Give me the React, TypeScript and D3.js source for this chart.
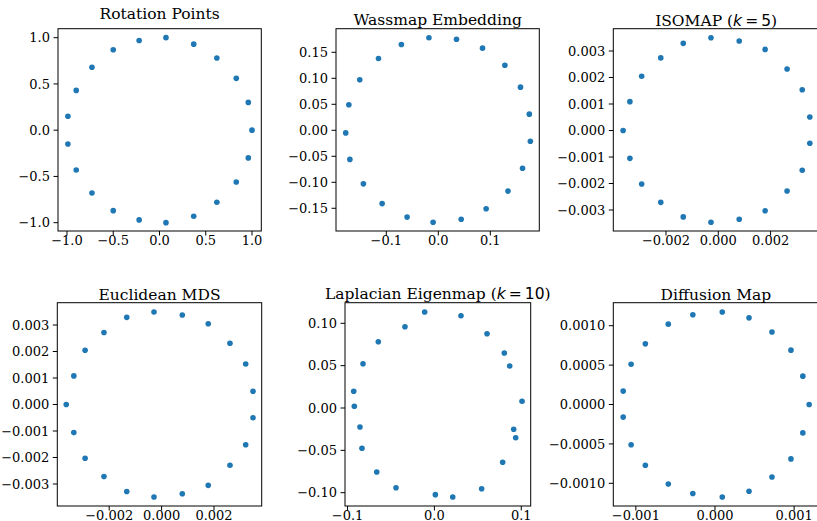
import React from "react";
import * as d3 from "d3";

// ---- data: 21 embedded points per method ----
const rotationX = [1.00, 0.96, 0.83, 0.62, 0.37, 0.07, -0.22, -0.50, -0.73, -0.90, -0.99, -0.99, -0.90, -0.73, -0.50, -0.22, 0.07, 0.37, 0.62, 0.83, 0.96];
const rotationY = [0.00, 0.30, 0.56, 0.78, 0.93, 1.00, 0.97, 0.87, 0.68, 0.43, 0.15, -0.15, -0.43, -0.68, -0.87, -0.97, -1.00, -0.93, -0.78, -0.56, -0.30];

const wassmapX = [-0.018, 0.035, 0.085, 0.128, 0.158, 0.175, 0.177, 0.162, 0.134, 0.092, 0.044, -0.010, -0.060, -0.108, -0.144, -0.170, -0.178, -0.172, -0.151, -0.115, -0.071];
const wassmapY = [0.178, 0.175, 0.158, 0.125, 0.083, 0.031, -0.021, -0.073, -0.117, -0.151, -0.171, -0.177, -0.167, -0.141, -0.103, -0.056, -0.005, 0.049, 0.097, 0.138, 0.165];

const isomapX = [-0.00028, 0.00080, 0.00179, 0.00263, 0.00321, 0.00350, 0.00350, 0.00321, 0.00263, 0.00179, 0.00080, -0.00028, -0.00134, -0.00220, -0.00293, -0.00338, -0.00364, -0.00338, -0.00293, -0.00220, -0.00134];
const isomapY = [0.00350, 0.00338, 0.00306, 0.00232, 0.00154, 0.00051, -0.00048, -0.00150, -0.00228, -0.00303, -0.00335, -0.00346, -0.00326, -0.00271, -0.00202, -0.00105, 0.00000, 0.00109, 0.00205, 0.00274, 0.00329];

const mdsX = [-0.00029, 0.00079, 0.00178, 0.00261, 0.00321, 0.00349, 0.00349, 0.00321, 0.00261, 0.00178, 0.00079, -0.00029, -0.00133, -0.00220, -0.00292, -0.00335, -0.00364, -0.00335, -0.00292, -0.00220, -0.00133];
const mdsY = [0.00349, 0.00338, 0.00305, 0.00231, 0.00153, 0.00050, -0.00050, -0.00152, -0.00229, -0.00305, -0.00337, -0.00349, -0.00328, -0.00272, -0.00203, -0.00106, 0.00000, 0.00108, 0.00205, 0.00272, 0.00329];

const laplacianX = [-0.0112, 0.0306, 0.0606, 0.0805, 0.0867, 0.1009, 0.0913, 0.0936, 0.0786, 0.0544, 0.0211, 0.0011, -0.0442, -0.0664, -0.0834, -0.0857, -0.0922, -0.0929, -0.0822, -0.0646, -0.0339];
const laplacianY = [0.1133, 0.1090, 0.0877, 0.0649, 0.0496, 0.0079, -0.0251, -0.0351, -0.0641, -0.0953, -0.1051, -0.1023, -0.0941, -0.0756, -0.0476, -0.0224, 0.0020, 0.0197, 0.0523, 0.0783, 0.0960];

const diffusionX = [0.000092, 0.00043, 0.00072, 0.00096, 0.00111, 0.00119, 0.00111, 0.00096, 0.00072, 0.00043, 0.000092, -0.00028, -0.00059, -0.00088, -0.00106, -0.00116, -0.00116, -0.00106, -0.00088, -0.00059, -0.00028];
const diffusionY = [0.001174, 0.00110, 0.00092, 0.00069, 0.00036, 0.0, -0.00036, -0.00069, -0.00092, -0.00110, -0.001174, -0.00113, -0.00101, -0.00077, -0.00051, -0.00016, 0.00017, 0.00051, 0.00077, 0.00102, 0.00114];

// ---- tick values ----
const ticksUnit = [-1.0, -0.5, 0.0, 0.5, 1.0];
const ticksWassX = [-0.1, 0.0, 0.1];
const ticksWassY = [-0.15, -0.10, -0.05, 0.0, 0.05, 0.10, 0.15];
const ticksMilliX = [-0.002, 0.0, 0.002];
const ticksMilliY = [-0.003, -0.002, -0.001, 0.0, 0.001, 0.002, 0.003];
const ticksLapX = [-0.1, 0.0, 0.1];
const ticksLapY = [-0.10, -0.05, 0.0, 0.05, 0.10];
const ticksDiffX = [-0.001, 0.0, 0.001];
const ticksDiffY = [-0.0010, -0.0005, 0.0, 0.0005, 0.0010];

type Panel = {
  title: React.ReactNode;
  titleY: number;
  box: [number, number, number, number]; // left, top, right, bottom
  xDomain: [number, number];
  yDomain: [number, number];
  xs: number[];
  ys: number[];
  xTicks: number[];
  yTicks: number[];
  xDec: number;
  yDec: number;
};

const mathK = (n: string) => (
  <>
    {" ("}
    <tspan fontFamily="DejaVu Sans" fontStyle="italic">k</tspan>
    <tspan fontFamily="DejaVu Sans">{"\u2009=\u2009" + n}</tspan>
    {")"}
  </>
);

const panels: Panel[] = [
  {
    title: "Rotation Points", titleY: 18.5,
    box: [58, 28.7, 261.3, 231], xDomain: [-1.097, 1.1005], yDomain: [-1.09, 1.097],
    xs: rotationX, ys: rotationY, xTicks: ticksUnit, yTicks: ticksUnit, xDec: 1, yDec: 1,
  },
  {
    title: "Wassmap Embedding", titleY: 24.5,
    box: [336, 28.7, 539.3, 231], xDomain: [-0.1967, 0.1942], yDomain: [-0.1937, 0.1954],
    xs: wassmapX, ys: wassmapY, xTicks: ticksWassX, yTicks: ticksWassY, xDec: 1, yDec: 2,
  },
  {
    title: <>ISOMAP{mathK("5")}</>, titleY: 26,
    box: [613.3, 28.7, 819, 231], xDomain: [-0.004015, 0.003851], yDomain: [-0.003792, 0.003842],
    xs: isomapX, ys: isomapY, xTicks: ticksMilliX, yTicks: ticksMilliY, xDec: 3, yDec: 3,
  },
  {
    title: "Euclidean MDS", titleY: 300.3,
    box: [57.3, 302.7, 261.7, 506], xDomain: [-0.003981, 0.003821], yDomain: [-0.00383, 0.003842],
    xs: mdsX, ys: mdsY, xTicks: ticksMilliX, yTicks: ticksMilliY, xDec: 3, yDec: 3,
  },
  {
    title: <>Laplacian Eigenmap{mathK("10")}</>, titleY: 299,
    box: [345, 302.7, 530.7, 506], xDomain: [-0.10294, 0.11088], yDomain: [-0.1157, 0.12432],
    xs: laplacianX, ys: laplacianY, xTicks: ticksLapX, yTicks: ticksLapY, xDec: 1, yDec: 2,
  },
  {
    title: "Diffusion Map", titleY: 300.3,
    box: [613.3, 302.7, 818.5, 506], xDomain: [-0.001285, 0.001308], yDomain: [-0.001288, 0.001292],
    xs: diffusionX, ys: diffusionY, xTicks: ticksDiffX, yTicks: ticksDiffY, xDec: 3, yDec: 4,
  },
];

const fmt = (v: number, dec: number) => {
  const s = Math.abs(v).toFixed(dec);
  return (v < -1e-12 ? "\u2212" : "") + s;
};

const SERIF = "DejaVu Serif";
const TICK_FS = 13;
const TITLE_FS = 15.5;
const TICK_LEN = 4.5;

function ScatterPanel({ p, idx }: { p: Panel; idx: number }) {
  const [l, t, r, b] = p.box;
  const x = d3.scaleLinear().domain(p.xDomain).range([l, r]);
  const y = d3.scaleLinear().domain(p.yDomain).range([b, t]);
  const clipId = `clip-${idx}`;
  return (
    <g>
      <defs>
        <clipPath id={clipId}>
          <rect x={l} y={t} width={r - l} height={b - t} />
        </clipPath>
      </defs>
      <g clipPath={`url(#${clipId})`}>
        {p.xs.map((xv, i) => (
          <circle key={i} cx={x(xv)} cy={y(p.ys[i])} r={2.8} fill="#1f77b4" />
        ))}
      </g>
      <rect x={l} y={t} width={r - l} height={b - t} fill="none" stroke="#000" strokeWidth={1} />
      {p.xTicks.map((v) => (
        <g key={`x${v}`}>
          <line x1={x(v)} x2={x(v)} y1={b} y2={b + TICK_LEN} stroke="#000" strokeWidth={1} />
          <text x={x(v)} y={b + 13.5} textAnchor="middle" fontFamily={SERIF} fontSize={TICK_FS} fill="#000">
            {fmt(v, p.xDec)}
          </text>
        </g>
      ))}
      {p.yTicks.map((v) => (
        <g key={`y${v}`}>
          <line x1={l - TICK_LEN} x2={l} y1={y(v)} y2={y(v)} stroke="#000" strokeWidth={1} />
          <text x={l - 8} y={y(v)} dy="0.36em" textAnchor="end" fontFamily={SERIF} fontSize={TICK_FS} fill="#000">
            {fmt(v, p.yDec)}
          </text>
        </g>
      ))}
      <text x={(l + r) / 2} y={p.titleY} textAnchor="middle" fontFamily={SERIF} fontSize={TITLE_FS} fill="#000">
        {p.title}
      </text>
    </g>
  );
}

export default function App() {
  return (
    <svg
      width={817}
      height={521}
      style={{ position: "absolute", left: 0, top: 0, background: "#fff" }}
    >
      <rect x={0} y={0} width={817} height={521} fill="#fff" />
      {panels.map((p, i) => (
        <ScatterPanel key={i} p={p} idx={i} />
      ))}
    </svg>
  );
}
